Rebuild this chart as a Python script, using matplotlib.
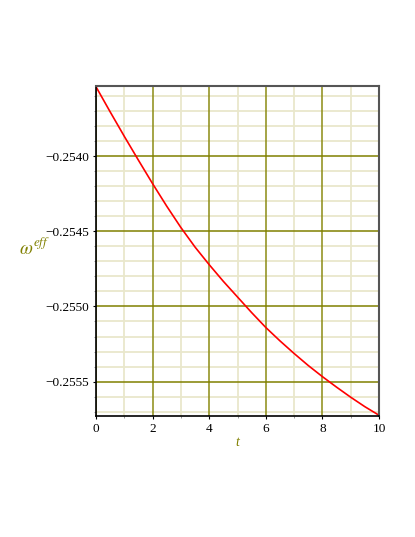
import matplotlib
matplotlib.use("Agg")
import matplotlib.pyplot as plt
import numpy as np
from matplotlib.ticker import FuncFormatter

t_values = [0, 0.5, 1, 1.5, 2, 2.5, 3, 3.5, 4, 4.5, 5, 5.5, 6, 6.5, 7, 7.5,
            8, 8.5, 9, 9.5, 10]
omega_eff = [-0.253538, -0.253705, -0.253868, -0.254027, -0.254183, -0.254333,
             -0.254475, -0.254605, -0.254722, -0.254833, -0.254937, -0.255041,
             -0.255140, -0.255229, -0.255313, -0.255393, -0.255467, -0.255537,
             -0.255604, -0.255667, -0.255724]
x_ticks = [0, 2, 4, 6, 8, 10]
y_ticks = [-0.2540, -0.2545, -0.2550, -0.2555]

olive = "#808000"
minor_col = "#e9e7cc"

fig = plt.figure(figsize=(4.15, 5.37), dpi=100)
ax = fig.add_axes([96/415, 1-416/537, (379-96)/415, (416-86)/537])

xlim = (0, 10)
ylim = (-0.255729, -0.253533)
ax.set_xlim(*xlim)
ax.set_ylim(*ylim)

# minor grid (drawn first, below)
xm = np.arange(1, 10, 2)
ym = np.round(np.arange(-0.2557, -0.2535, 0.0001), 4)
ym = [v for v in ym if abs(v / 0.0005 - round(v / 0.0005)) > 1e-6]
ax.vlines(xm, *ylim, color=minor_col, lw=1.3, zorder=0.5)
ax.hlines(ym, *xlim, color=minor_col, lw=1.3, zorder=0.5)
# major grid
ax.vlines(x_ticks, *ylim, color="#8c8c14", lw=1.1, zorder=1)
ax.hlines(y_ticks, *xlim, color=olive, lw=1.1, zorder=1)

ax.plot(t_values, omega_eff, color="#ff0000", lw=1.2, zorder=3)

ax.set_xticks(x_ticks)
ax.set_yticks(y_ticks)
ax.set_xticks(list(xm), minor=True)
ax.set_yticks(ym, minor=True)
ax.yaxis.set_major_formatter(FuncFormatter(lambda v, p: ("%.4f" % v).replace("-", "\u2212")))

for lab in ax.get_xticklabels() + ax.get_yticklabels():
    lab.set_family("Liberation Serif")
    lab.set_fontsize(9.5)
ax.tick_params(which="major", length=2, width=0.8, color="black", pad=3)
ax.tick_params(which="minor", length=1.2, width=0.6, color="#888888")

for s in ["left", "bottom"]:
    ax.spines[s].set_color("black")
    ax.spines[s].set_linewidth(1.2)
for s in ["top", "right"]:
    ax.spines[s].set_color("#555555")
    ax.spines[s].set_linewidth(1.5)
for s in ax.spines.values():
    s.set_zorder(4)

fig.text(237/415, 1-443/537, "t", family="Liberation Serif", style="italic",
         color=olive, fontsize=10, ha="center", va="center")
fig.text(35/415, 1-247/537, r"$\omega^{eff}$", color=olive, fontsize=13.5,
         ha="center", va="center", math_fontfamily="stix")

fig.savefig("out.png", dpi=100)
